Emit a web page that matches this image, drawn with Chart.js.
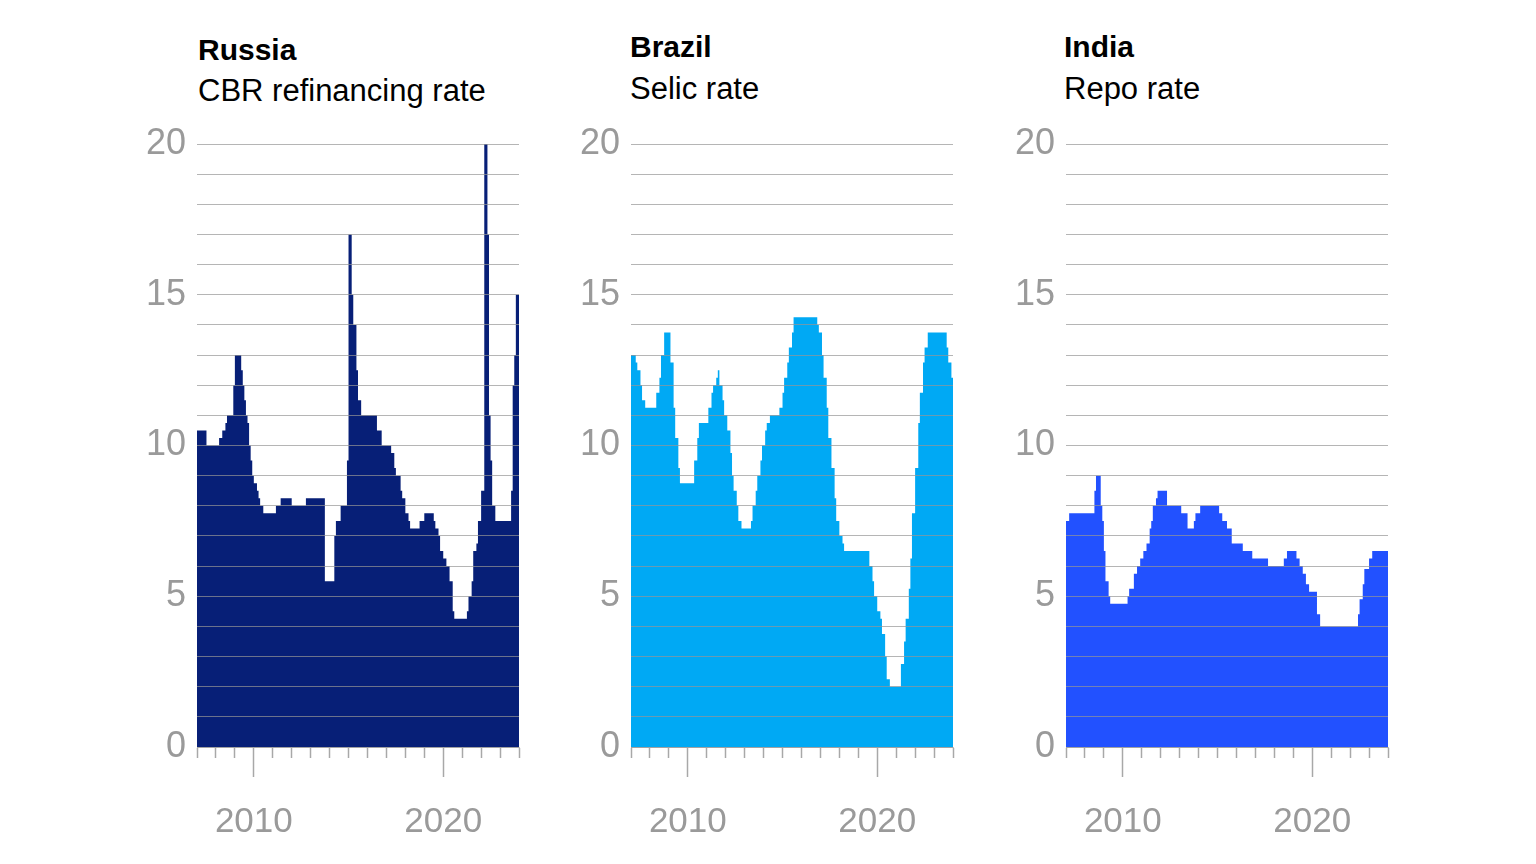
<!DOCTYPE html>
<html><head><meta charset="utf-8">
<script src="https://cdn.jsdelivr.net/npm/chart.js@4.4.1/dist/chart.umd.min.js"></script>
<style>
html,body{margin:0;padding:0;background:#fff;width:1536px;height:864px;overflow:hidden;font-family:"Liberation Sans",Arial,sans-serif;}
.t{position:absolute;white-space:nowrap;font-size:31px;line-height:31px;color:#000;}
.b{font-weight:700;font-size:30px;}
canvas{position:absolute;}
</style></head><body>
<div id="titles"></div>
<canvas id="c0" width="420" height="760" style="left:120px;top:100px;width:420px;height:760px"></canvas>
<canvas id="c1" width="420" height="760" style="left:554px;top:100px;width:420px;height:760px"></canvas>
<canvas id="c2" width="420" height="760" style="left:989px;top:100px;width:420px;height:760px"></canvas>
<script>
// ---- Data (month-end readings, value holds until next change) ----
const countries = ['Russia', 'Brazil', 'India'];
const rateNames = ['CBR refinancing rate', 'Selic rate', 'Repo rate'];
const colors = ['#071f77', '#00a9f4', '#2251ff'];

const russiaMonths = ['2006-12','2007-06','2008-02','2008-04','2008-06','2008-07','2008-11','2008-12','2009-04','2009-05','2009-06','2009-07','2009-08','2009-09','2009-10','2009-11','2009-12','2010-02','2010-03','2010-04','2010-06','2011-02','2011-05','2011-12','2012-09','2013-09','2014-03','2014-04','2014-07','2014-11','2014-12','2015-02','2015-03','2015-05','2015-06','2015-08','2016-06','2016-09','2017-03','2017-05','2017-06','2017-09','2017-10','2017-12','2018-02','2018-03','2018-09','2018-12','2019-06','2019-07','2019-09','2019-10','2019-12','2020-02','2020-04','2020-06','2020-07','2021-03','2021-04','2021-06','2021-07','2021-09','2021-10','2021-12','2022-02','2022-04','2022-05','2022-06','2022-07','2022-09','2023-07','2023-08','2023-09','2023-10','2023-12'];
const russiaRates = [10.5,10.0,10.25,10.5,10.75,11.0,12.0,13.0,12.5,12.0,11.5,11.0,10.75,10.0,9.5,9.0,8.75,8.5,8.25,8.0,7.75,8.0,8.25,8.0,8.25,5.5,7.0,7.5,8.0,9.5,17.0,15.0,14.0,12.5,11.5,11.0,10.5,10.0,9.75,9.25,9.0,8.5,8.25,7.75,7.5,7.25,7.5,7.75,7.5,7.25,7.0,6.5,6.25,6.0,5.5,4.5,4.25,4.5,5.0,5.5,6.5,6.75,7.5,8.5,20.0,17.0,11.0,9.5,8.0,7.5,8.5,12.0,13.0,15.0,15.0];

const brazilMonths = ['2006-12','2007-03','2007-04','2007-06','2007-07','2007-09','2008-04','2008-06','2008-07','2008-09','2009-01','2009-03','2009-04','2009-06','2009-07','2010-04','2010-06','2010-07','2011-01','2011-03','2011-04','2011-06','2011-07','2011-08','2011-10','2011-11','2012-01','2012-03','2012-04','2012-05','2012-07','2012-08','2012-10','2013-04','2013-05','2013-07','2013-08','2013-10','2013-11','2014-01','2014-02','2014-04','2014-10','2014-12','2015-01','2015-03','2015-04','2015-06','2015-07','2016-10','2016-11','2017-01','2017-02','2017-04','2017-05','2017-07','2017-09','2017-10','2017-12','2018-02','2018-03','2019-07','2019-09','2019-10','2019-12','2020-02','2020-03','2020-05','2020-06','2020-08','2021-03','2021-05','2021-06','2021-08','2021-09','2021-10','2021-12','2022-02','2022-03','2022-05','2022-06','2022-08','2023-08','2023-09','2023-11','2023-12'];
const brazilRates = [13.0,12.75,12.5,12.0,11.5,11.25,11.75,12.25,13.0,13.75,12.75,11.25,10.25,9.25,8.75,9.5,10.25,10.75,11.25,11.75,12.0,12.25,12.5,12.0,11.5,11.0,10.5,9.75,9.0,8.5,8.0,7.5,7.25,7.5,8.0,8.5,9.0,9.5,10.0,10.5,10.75,11.0,11.25,11.75,12.25,12.75,13.25,13.75,14.25,14.0,13.75,13.0,12.25,11.25,10.25,9.25,8.25,7.5,7.0,6.75,6.5,6.0,5.5,5.0,4.5,4.25,3.75,3.0,2.25,2.0,2.75,3.5,4.25,5.25,6.25,7.75,9.25,10.75,11.75,12.75,13.25,13.75,13.25,12.75,12.25,12.25];

const indiaMonths = ['2006-12','2007-02','2008-06','2008-07','2008-10','2008-11','2008-12','2009-01','2009-03','2009-04','2010-03','2010-04','2010-07','2010-09','2010-11','2011-01','2011-03','2011-05','2011-06','2011-07','2011-09','2011-10','2012-04','2013-01','2013-05','2013-09','2013-10','2014-01','2015-01','2015-03','2015-06','2015-09','2016-04','2016-10','2017-08','2018-06','2018-08','2019-02','2019-04','2019-06','2019-08','2019-10','2020-03','2020-05','2022-05','2022-06','2022-08','2022-09','2022-12','2023-02','2023-12'];
const indiaRates = [7.5,7.75,8.5,9.0,8.0,7.5,6.5,5.5,5.0,4.75,5.0,5.25,5.75,6.0,6.25,6.5,6.75,7.25,7.5,8.0,8.25,8.5,8.0,7.75,7.25,7.5,7.75,8.0,7.75,7.5,7.25,6.75,6.5,6.25,6.0,6.25,6.5,6.25,6.0,5.75,5.4,5.15,4.4,4.0,4.4,4.9,5.4,5.9,6.25,6.5,6.5];

const xMin = 2007, xMax = 2024;
const yMin = 0, yMax = 20;
const xTickLabels = ['2010', '2020'];
const yTickLabels = ['0', '5', '10', '15', '20'];

// ---- Titles ----
const titleTops = [[34, 75], [31, 73], [31, 73]];
const titleLefts = [198, 630, 1064];
const tdiv = document.getElementById('titles');
countries.forEach((c, i) => {
  const a = document.createElement('div');
  a.className = 't b'; a.textContent = c;
  a.style.left = titleLefts[i] + 'px'; a.style.top = titleTops[i][0] + 'px';
  const b = document.createElement('div');
  b.className = 't'; b.textContent = rateNames[i];
  b.style.left = titleLefts[i] + 'px'; b.style.top = titleTops[i][1] + 'px';
  tdiv.appendChild(a); tdiv.appendChild(b);
});

function toYear(s) { const [y, m] = s.split('-').map(Number); return y + m / 12; }
function pts(months, rates) { return months.map((m, i) => ({ x: toYear(m), y: rates[i] })); }

const FONT = '"Liberation Sans", Arial, sans-serif';
const series = [pts(russiaMonths, russiaRates), pts(brazilMonths, brazilRates), pts(indiaMonths, indiaRates)];

series.forEach((data, i) => {
  new Chart(document.getElementById('c' + i), {
    type: 'line',
    data: { datasets: [{ data, stepped: 'before', fill: 'origin', backgroundColor: colors[i], borderColor: colors[i], borderWidth: 0, pointRadius: 0 }] },
    options: {
      animation: false, responsive: false, maintainAspectRatio: false,
      layout: { padding: { top: 44, right: 21, left: 0, bottom: 0 } },
      plugins: { legend: { display: false }, tooltip: { enabled: false } },
      scales: {
        x: {
          type: 'linear', min: xMin, max: xMax,
          ticks: { stepSize: 1, autoSkip: false, maxRotation: 0, includeBounds: true,
            callback: v => xTickLabels.includes(String(v)) ? String(v) : '',
            font: { family: FONT, size: 35 }, color: '#9a9a9a', padding: 24 },
          grid: { drawOnChartArea: false, drawTicks: true, tickLength: 30, tickColor: '#a8a8a8', tickWidth: 1.5,
            tickBorderDash: ctx => (ctx.tick && xTickLabels.includes(String(ctx.tick.value))) ? [] : [10, 60] },
          border: { display: true, color: '#c0c0c0', width: 1 },
          afterFit: s => { s.height = 113; s.paddingLeft = 0; s.paddingRight = 0; }
        },
        y: {
          min: yMin, max: yMax,
          ticks: { stepSize: 1, autoSkip: false,
            callback: v => yTickLabels.includes(String(v)) ? String(v) : '',
            font: { family: FONT, size: 36 }, color: '#9a9a9a', padding: 11 },
          grid: { z: 1, color: 'rgba(150,150,150,0.7)', lineWidth: 1, drawTicks: false },
          border: { display: false },
          afterFit: s => { s.width = 77; }
        }
      }
    }
  });
});
</script>
</body></html>
